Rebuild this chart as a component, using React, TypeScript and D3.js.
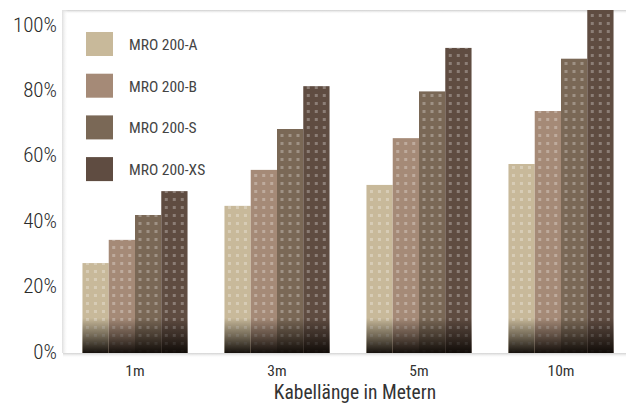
import React from "react";
import * as d3 from "d3";

const categories = ["1m", "3m", "5m", "10m"];
const seriesNames = ["MRO 200-A", "MRO 200-B", "MRO 200-S", "MRO 200-XS"];
const seriesA = [27.5, 45, 51.4, 57.8];
const seriesB = [34.6, 56, 65.7, 74];
const seriesS = [42.2, 68.5, 80, 90];
const seriesXS = [49.5, 81.6, 93.3, 108];
const yTicks = [0, 20, 40, 60, 80, 100];
const colors = ["#c8b99a", "#a58a77", "#7a6856", "#5f4c41"];
const xTitle = "Kabellänge in Metern";

const W = 626;
const H = 403;
const FONT = "'Liberation Sans Narrow', 'Roboto Condensed', 'DejaVu Sans Condensed', sans-serif";

export default function App() {
  const series = [seriesA, seriesB, seriesS, seriesXS];
  const plotLeft = 63;
  const plotTop = 10;
  const plotBottom = 353;
  const y = d3.scaleLinear().domain([0, 100]).range([plotBottom, 26]);
  const x0 = d3.scaleBand<string>().domain(categories).range([64, 632]).paddingInner(0.26).paddingOuter(0.13);
  const x1 = d3.scaleBand<string>().domain(seriesNames).range([0, x0.bandwidth()]);
  const gradTop = 318;

  const bars: any[] = [];
  categories.forEach((c, ci) => {
    seriesNames.forEach((s, si) => {
      const v = series[si][ci];
      const bx = (x0(c) as number) + (x1(s) as number);
      const bw = x1.bandwidth();
      const by = y(v);
      bars.push({ id: `b${ci}_${si}`, bx, bw, by, color: colors[si] });
    });
  });

  return (
    <svg width={W} height={H} style={{ position: "absolute", left: 0, top: 0, display: "block", background: "#fff" }}>
      <defs>
        <clipPath id="plotClip">
          <rect x={plotLeft} y={plotTop} width={W - plotLeft} height={plotBottom - plotTop} />
        </clipPath>
        <linearGradient id="shadowTop" x1="0" y1="0" x2="0" y2="1">
          <stop offset="0" stopColor="#cdcdcd" />
          <stop offset="1" stopColor="#ffffff" stopOpacity="0" />
        </linearGradient>
        <linearGradient id="shadowLeft" x1="0" y1="0" x2="1" y2="0">
          <stop offset="0" stopColor="#dddddd" />
          <stop offset="1" stopColor="#ffffff" stopOpacity="0" />
        </linearGradient>
        <linearGradient id="shadowBottom" x1="0" y1="0" x2="0" y2="1">
          <stop offset="0" stopColor="#d2d2d2" />
          <stop offset="1" stopColor="#ffffff" stopOpacity="0" />
        </linearGradient>
        <linearGradient id="barShade" x1="0" y1="0" x2="0" y2="1">
          <stop offset="0" stopColor="#000" stopOpacity="0" />
          <stop offset="0.5" stopColor="#0c0805" stopOpacity="0.45" />
          <stop offset="1" stopColor="#0c0805" stopOpacity="0.95" />
        </linearGradient>
        {bars.map((b) => (
          <pattern key={b.id} id={`p${b.id}`} patternUnits="userSpaceOnUse" x={b.bx + 3.5} y={6} width={8} height={8}>
            <rect x={0} y={0} width={3} height={3} fill="#fff" fillOpacity={0.28} />
          </pattern>
        ))}
      </defs>

      {/* frame shadows */}
      <rect x={plotLeft} y={plotTop} width={W - plotLeft} height={4} fill="url(#shadowTop)" />
      <rect x={plotLeft - 1} y={plotTop} width={6} height={plotBottom - plotTop} fill="url(#shadowLeft)" />
      <rect x={plotLeft} y={plotBottom} width={W - plotLeft} height={5} fill="url(#shadowBottom)" />

      {/* bars */}
      <g clipPath="url(#plotClip)">
        {bars.map((b) => (
          <g key={b.id}>
            <rect x={b.bx} y={b.by} width={b.bw} height={plotBottom - b.by} fill={b.color} />
            <rect x={b.bx} y={b.by} width={b.bw} height={plotBottom - b.by} fill={`url(#p${b.id})`} />
            <rect x={b.bx} y={Math.max(b.by, gradTop)} width={b.bw} height={plotBottom - Math.max(b.by, gradTop)} fill="url(#barShade)" />
          </g>
        ))}
      </g>

      {/* y axis labels */}
      {yTicks.map((t) => (
        <text key={t} x={57} y={y(t) - 2} dy="0.36em" textAnchor="end" fontFamily={FONT} fontSize={21} fontWeight={300} fill="#2a2a2a">
          {t}%
        </text>
      ))}

      {/* x axis labels */}
      {categories.map((c) => (
        <text key={c} x={(x0(c) as number) + x0.bandwidth() / 2} y={376} textAnchor="middle" fontFamily={FONT} fontSize={15.5} fill="#333">
          {c}
        </text>
      ))}
      <text x={355} y={399} textAnchor="middle" fontFamily={FONT} fontSize={19.5} fill="#333">
        {xTitle}
      </text>

      {/* legend */}
      {seriesNames.map((s, i) => (
        <g key={s} transform={`translate(86, ${32 + i * 41.7})`}>
          <rect x={0} y={0} width={27} height={24} fill={colors[i]} />
          <text x={43} y={12} dy="0.38em" fontFamily={FONT} fontSize={15.5} fill="#444">
            {s}
          </text>
        </g>
      ))}
    </svg>
  );
}
